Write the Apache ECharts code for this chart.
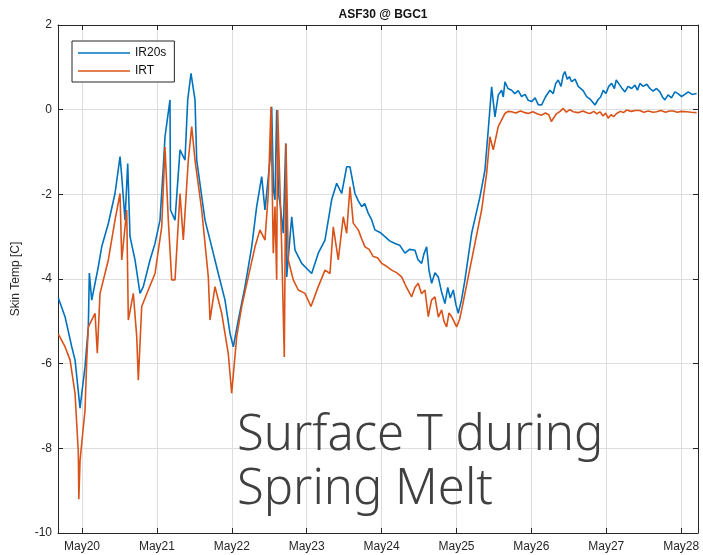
<!DOCTYPE html>
<html>
<head>
<meta charset="utf-8">
<script src="https://cdn.jsdelivr.net/npm/echarts@6/dist/echarts.min.js"></script>
<style>html,body{margin:0;padding:0;background:#fff;}#c{width:703px;height:555px;}</style>
</head>
<body>
<div id="c"></div>
<script>
// hours since May 19 00:00
const blueHours = [16.41,18.55,20.70,21.76,23.36,24.96,26.02,26.34,27.11,29.22,30.31,32.43,34.57,36.18,36.73,37.78,38.64,39.38,40.98,42.58,43.64,45.79,47.39,48.99,50.05,50.59,52.19,52.35,53.80,55.40,57.00,57.87,58.92,60.21,60.75,63.41,65.56,67.67,69.82,71.42,72.48,74.08,76.23,78.37,79.97,81.58,82.63,84.24,84.78,85.36,85.84,86.38,86.96,87.44,88.50,89.27,89.59,91.20,92.25,94.39,97.60,99.71,101.86,104.00,105.61,107.21,108.81,109.87,111.47,112.5,113.62,114.6,115.73,116.8,117.88,119.5,121.08,122.6,124.29,125.8,127.49,129.0,130.69,131.7,132.84,133.6,134.44,135.2,136.04,137.1,138.16,139.2,140.31,141.2,142.0,142.97,143.8,144.57,145.6,146.71,148.86,151.52,153.12,154.18,155.27,156.33,157.4,158.47,159.0,159.53,160.5,161.68,162.7,163.8,164.88,166.0,167.0,168.09,169.2,170.2,171.29,172.5,173.95,175.0,175.8,176.61,177.5,178.2,178.75,179.5,180.2,180.9,182.0,183.0,183.56,184.6,185.7,186.8,187.6,188.37,189.4,190.2,191.03,191.9,192.8,193.72,194.6,195.2,195.83,196.9,197.98,199.0,200.12,201.2,202.0,202.78,203.8,205.0,205.99,207.0,208.1,209.19,210.0,210.79,211.8,212.9,214.0,215.0,216.14,217.2,218.26,219.5,220.95];
const blueValues = [-4.45,-4.89,-5.6,-5.91,-7.05,-6.07,-5.13,-3.86,-4.5,-3.71,-3.24,-2.69,-1.98,-1.11,-1.58,-2.61,-1.27,-3.0,-3.55,-4.34,-4.18,-3.55,-3.16,-2.61,-1.35,-0.64,0.23,-2.37,-2.61,-0.95,-1.19,0.23,0.86,0.23,-1.19,-2.61,-3.24,-3.87,-4.5,-5.28,-5.6,-4.97,-4.18,-3.24,-2.29,-1.58,-2.37,-1.19,0.07,-1.9,-2.13,-0.01,-2.0,-2.2,-2.92,-0.8,-3.95,-2.53,-3.32,-3.63,-3.87,-3.39,-3.08,-2.13,-1.74,-1.98,-1.35,-1.35,-1.98,-2.15,-2.29,-2.22,-2.45,-2.6,-2.84,-2.9,-3.0,-3.1,-3.16,-3.2,-3.39,-3.3,-3.32,-3.55,-3.63,-3.4,-3.24,-3.8,-4.1,-3.85,-3.95,-4.3,-4.58,-4.2,-4.45,-4.26,-4.6,-4.81,-4.5,-4.02,-2.92,-2.06,-1.43,-0.48,0.54,-0.17,0.35,0.46,0.3,0.66,0.5,0.46,0.38,0.45,0.31,0.36,0.22,0.19,0.28,0.12,0.11,0.3,0.46,0.38,0.62,0.70,0.55,0.82,0.90,0.72,0.78,0.66,0.72,0.55,0.54,0.45,0.31,0.25,0.18,0.11,0.24,0.3,0.46,0.38,0.55,0.62,0.5,0.7,0.74,0.52,0.42,0.55,0.50,0.58,0.46,0.62,0.55,0.6,0.50,0.44,0.5,0.42,0.3,0.23,0.35,0.28,0.42,0.38,0.31,0.36,0.42,0.36,0.38];
const orangeHours = [16.41,18.55,20.16,21.76,22.81,22.97,23.36,23.90,24.96,25.51,26.02,28.17,28.90,29.77,32.43,34.57,36.18,36.73,38.32,38.84,40.44,41.53,42.04,43.13,45.24,47.39,49.54,50.59,51.65,52.74,53.80,55.40,56.46,58.06,59.15,60.21,62.35,64.47,65.01,66.61,68.76,70.87,71.96,73.57,75.17,77.28,79.43,81.03,82.63,83.69,84.55,85.29,85.84,86.38,86.70,87.98,88.82,89.36,90.10,91.70,93.30,95.45,97.37,99.71,101.86,103.46,104.52,106.12,107.72,108.81,109.87,110.92,112.53,113.6,114.67,116.0,117.33,118.7,120.02,121.6,123.23,124.8,126.43,128.0,129.64,130.7,131.75,132.8,133.90,134.96,136.0,137.10,138.2,139.25,140.0,140.85,141.6,142.45,143.2,144.05,145.0,145.66,147.77,149.92,152.06,153.67,154.72,155.78,157.38,159.53,160.5,161.68,163.0,164.5,166.0,167.0,168.5,170.0,171.29,172.5,173.6,174.4,175.01,176.0,177.2,178.21,179.2,180.3,181.41,183.0,184.5,186.0,186.76,188.0,189.0,189.96,191.0,191.8,192.62,193.5,194.4,195.31,196.5,197.5,198.51,200.0,201.3,202.78,204.0,205.5,207.0,208.13,209.5,211.0,212.2,213.45,214.8,216.0,217.74,219.3,220.95];
const orangeValues = [-5.3,-5.6,-5.91,-6.7,-8.1,-9.2,-8.3,-7.88,-7.1,-5.91,-5.13,-4.81,-5.75,-4.34,-3.55,-2.61,-1.98,-3.55,-2.37,-4.97,-4.34,-5.36,-6.39,-4.65,-4.26,-3.87,-2.77,-0.88,-2.61,-4.02,-4.02,-1.98,-3.08,-1.19,-0.4,-1.19,-2.37,-3.95,-4.97,-4.18,-4.81,-5.76,-6.7,-5.36,-4.65,-3.95,-3.24,-2.84,-3.08,-1.98,0.07,-3.39,-2.29,-4.02,-0.01,-3.24,-5.84,-0.8,-3.55,-4.02,-4.26,-4.34,-4.65,-4.18,-3.79,-3.87,-2.77,-3.55,-2.53,-2.92,-1.82,-2.68,-2.84,-3.05,-3.24,-3.3,-3.47,-3.5,-3.63,-3.7,-3.79,-3.85,-3.95,-4.2,-4.42,-4.2,-4.1,-4.35,-4.26,-4.89,-4.5,-4.42,-4.9,-4.73,-5.0,-5.13,-4.8,-4.89,-5.0,-5.13,-4.95,-4.73,-3.95,-3.16,-2.37,-1.5,-0.64,-0.95,-0.4,-0.09,-0.04,-0.05,-0.08,-0.03,-0.07,-0.09,-0.05,-0.1,-0.13,-0.08,-0.12,-0.28,-0.24,-0.1,-0.04,0.03,-0.06,0.0,-0.05,-0.07,-0.03,-0.08,-0.09,-0.04,-0.1,-0.05,-0.15,-0.08,-0.2,-0.12,-0.16,-0.09,-0.04,-0.07,-0.01,-0.04,-0.02,-0.02,-0.06,-0.03,-0.06,-0.05,-0.02,-0.06,-0.03,-0.03,-0.06,-0.04,-0.05,-0.06,-0.07];
const seriesNames = ['IR20s', 'IRT'];
const titleText = 'ASF30 @ BGC1';
const yAxisName = 'Skin Temp [C]';
const overlayLines = ['Surface T during', 'Spring Melt'];
const axisStartHour = 16.3;
const axisEndHour = 221.4;

const base = new Date(2019, 4, 19).getTime();
const H = 3600000;
const toData = (hs, vs) => hs.map((h, i) => [base + h * H, vs[i]]);
const font = 'Liberation Sans, Arial, sans-serif';
const axisColor = '#262626';
const gridColor = '#dedede';

const chart = echarts.init(document.getElementById('c'));
const xCommon = {
  type: 'time',
  min: base + axisStartHour * H,
  max: base + axisEndHour * H,
  minInterval: 24 * H,
  maxInterval: 24 * H,
  axisLine: { show: true, onZero: false, lineStyle: { color: axisColor, width: 1 } },
  axisTick: { show: true, inside: true, length: 5, lineStyle: { color: axisColor } },
};
chart.setOption({
  animation: false,
  title: { text: titleText, left: 378, textAlign: 'center', top: 4,
    textStyle: { fontFamily: font, fontSize: 12, fontWeight: 'bold', color: '#111' } },
  grid: { left: 58, right: 5, top: 25, bottom: 22 },
  legend: {
    orient: 'vertical', left: 72, top: 41,
    padding: [5, 8, 4, 6], itemGap: 4, itemWidth: 52, itemHeight: 1.5,
    icon: 'rect',
    borderColor: '#262626', borderWidth: 1, backgroundColor: '#fff',
    textStyle: { fontFamily: font, fontSize: 12, color: '#111', lineHeight: 14 },
    data: seriesNames
  },
  xAxis: [
    Object.assign({}, xCommon, {
      position: 'bottom',
      axisLabel: { fontFamily: font, fontSize: 12, color: axisColor, margin: 8,
        hideOverlap: false,
        formatter: v => 'May' + new Date(v).getDate() },
      splitLine: { show: true, lineStyle: { color: gridColor, width: 1 } }
    }),
    Object.assign({}, xCommon, {
      position: 'top',
      axisLabel: { show: false },
      splitLine: { show: false }
    })
  ],
  yAxis: [
    {
      type: 'value', min: -10, max: 2, interval: 2, position: 'left',
      name: yAxisName, nameLocation: 'middle', nameGap: 36,
      nameTextStyle: { fontFamily: font, fontSize: 12, color: axisColor },
      axisLine: { show: true, onZero: false, lineStyle: { color: axisColor } },
      axisTick: { show: true, inside: true, length: 5, lineStyle: { color: axisColor } },
      axisLabel: { fontFamily: font, fontSize: 12, color: axisColor, margin: 6 },
      splitLine: { show: true, lineStyle: { color: gridColor, width: 1 } }
    },
    {
      type: 'value', min: -10, max: 2, interval: 2, position: 'right',
      axisLine: { show: true, onZero: false, lineStyle: { color: axisColor } },
      axisTick: { show: true, inside: true, length: 5, lineStyle: { color: axisColor } },
      axisLabel: { show: false },
      splitLine: { show: false }
    }
  ],
  series: [
    { name: seriesNames[0], type: 'line', symbol: 'none', data: toData(blueHours, blueValues),
      lineStyle: { color: '#0072BD', width: 1.6 }, itemStyle: { color: '#0072BD' } },
    { name: seriesNames[1], type: 'line', symbol: 'none', data: toData(orangeHours, orangeValues),
      lineStyle: { color: '#D95319', width: 1.6 }, itemStyle: { color: '#D95319' } }
  ],
  graphic: [
    { type: 'text', left: 237, top: 409, z: 100,
      style: { text: overlayLines.join('\n'), fill: '#404040', font: '300 49px "Noto Sans", "Open Sans", sans-serif', lineHeight: 54 } }
  ]
});
</script>
</body>
</html>
